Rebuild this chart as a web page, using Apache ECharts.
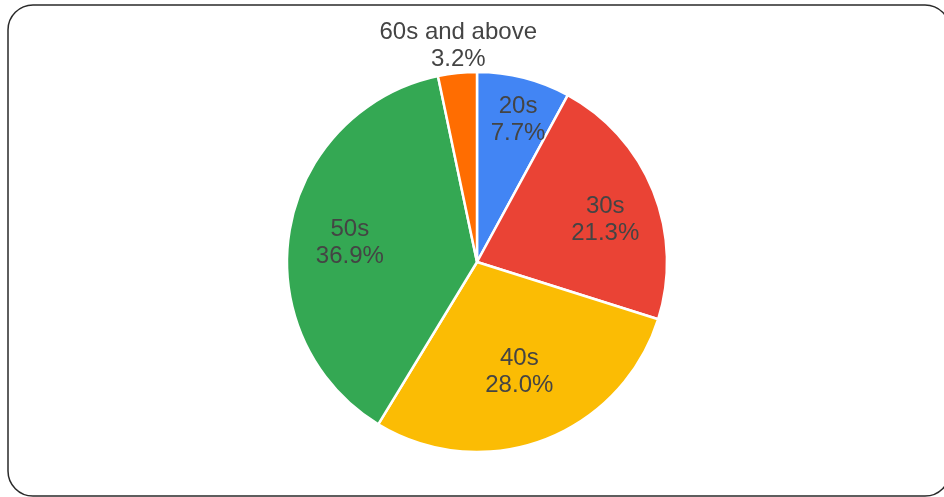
<!DOCTYPE html>
<html>
<head>
<meta charset="utf-8">
<script src="https://cdn.jsdelivr.net/npm/echarts@6/dist/echarts.min.js"></script>
<style>
  html, body { margin: 0; padding: 0; background: #fff; }
  #chart { width: 944px; height: 497px; }
</style>
</head>
<body>
<div id="chart"></div>
<script>
// Age distribution (percent shares as labelled)
const ageGroups = ['20s', '30s', '40s', '50s', '60s and above'];
const shares = [7.7, 21.3, 28.0, 36.9, 3.2];
const sliceColors = ['#4285F4', '#EA4335', '#FBBC04', '#34A853', '#FF6D01'];

// Pie geometry and label placement (distance from centre, angular nudge in degrees)
const CX = 477, CY = 262, R = 190;
const labelDistance = [151, 136, 115, 129, 218];
const labelNudge = [1.5, 2.5, -1, 0, 1];
const labelDropY = [3, 3, 3, 3, 1];

const total = shares.reduce((a, b) => a + b, 0);
const midAngles = [];
let acc = 0;
shares.forEach(v => { midAngles.push((acc + v / 2) / total * 2 * Math.PI); acc += v; });

const chart = echarts.init(document.getElementById('chart'), null, { renderer: 'canvas' });

chart.setOption({
  animation: false,
  backgroundColor: '#fff',
  graphic: [{
    type: 'rect',
    z: -10,
    shape: { x: 8, y: 5, width: 942, height: 491, r: 25 },
    style: { fill: 'none', stroke: '#2a2a2a', lineWidth: 1.5 }
  }],
  series: [{
    type: 'pie',
    center: [CX, CY],
    radius: R,
    startAngle: 90,
    clockwise: true,
    avoidLabelOverlap: false,
    emphasis: { disabled: true },
    itemStyle: { borderColor: '#fff', borderWidth: 2.5 },
    label: {
      show: true,
      position: 'inside',
      fontFamily: 'Liberation Sans, Arial, sans-serif',
      fontSize: 24,
      lineHeight: 27,
      color: '#444',
      formatter: p => p.name + '\n' + p.value.toFixed(1) + '%'
    },
    labelLine: { show: false },
    labelLayout: params => {
      const i = params.dataIndex;
      const a = midAngles[i] + labelNudge[i] * Math.PI / 180;
      const d = labelDistance[i];
      return {
        x: CX + d * Math.sin(a),
        y: CY - d * Math.cos(a) + labelDropY[i],
        align: 'center',
        verticalAlign: 'middle'
      };
    },
    data: ageGroups.map((name, i) => ({
      name,
      value: shares[i],
      itemStyle: { color: sliceColors[i] },
      label: i === 4 ? { position: 'outside' } : undefined
    }))
  }]
});
</script>
</body>
</html>
